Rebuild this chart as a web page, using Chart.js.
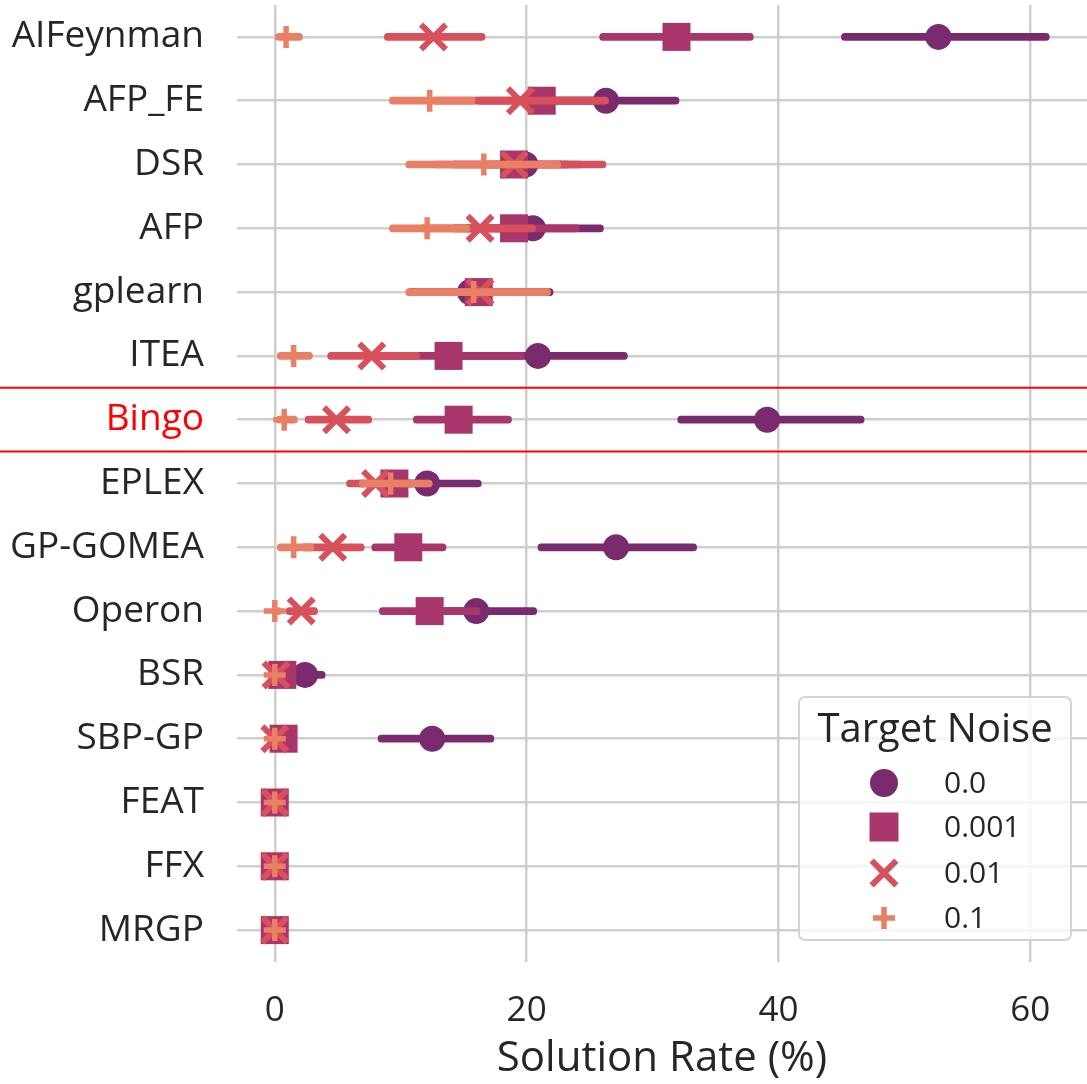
<!DOCTYPE html>
<html>
<head>
<meta charset="utf-8">
<script src="https://cdn.jsdelivr.net/npm/chart.js@4"></script>
<style>
  html, body { margin: 0; padding: 0; background: #fff; }
  #wrap { width: 1087px; height: 1084px; position: relative; }
</style>
</head>
<body>
<div id="wrap"><canvas id="pointChart"></canvas></div>
<script>
// Methods on the y axis, top to bottom
const methods = ['AIFeynman', 'AFP_FE', 'DSR', 'AFP', 'gplearn', 'ITEA', 'Bingo', 'EPLEX',
                 'GP-GOMEA', 'Operon', 'BSR', 'SBP-GP', 'FEAT', 'FFX', 'MRGP'];

// Target noise levels (legend)
const noiseLevels = ['0.0', '0.001', '0.01', '0.1'];

// Solution rate (%) per method, one array per noise level
const rate00   = [52.7, 26.3, 19.9, 20.5, 15.5, 20.9, 39.1, 12.1, 27.1, 16.0, 2.4, 12.5, 0, 0, 0];
const rate0001 = [31.9, 21.2, 19.0, 19.0, 16.2, 13.8, 14.6, 9.5, 10.6, 12.3, 0.6, 0.7, 0, 0, 0];
const rate001  = [12.6, 19.5, 19.0, 16.3, 16.3, 7.7, 4.9, 8.0, 4.6, 2.1, 0.1, 0, 0, 0, 0];
const rate01   = [0.9, 12.3, 16.6, 12.1, 15.8, 1.5, 0.75, 9.2, 1.5, 0, 0, 0, 0, 0, 0];

// Confidence intervals [low, high]
const ci00   = [[45.0, 61.5], [20.5, 32.1], [16.5, 23.5], [15.0, 26.1], [10.6, 22.1], [13.8, 28.0],
                [32.0, 46.8], [8.0, 16.4], [20.9, 33.5], [11.2, 20.8], [0.8, 4.0], [8.2, 17.4],
                [0, 0], [0, 0], [0, 0]];
const ci0001 = [[25.8, 38.0], [16.0, 26.0], [14.0, 24.5], [14.0, 24.2], [11.0, 21.5], [7.8, 19.8],
                [11.0, 18.8], [6.5, 12.5], [7.7, 13.6], [8.3, 16.3], [0, 1.5], [0, 1.6],
                [0, 0], [0, 0], [0, 0]];
const ci001  = [[8.7, 16.7], [12.5, 26.5], [12.5, 26.3], [11.5, 20.7], [10.5, 21.8], [4.2, 11.5],
                [2.4, 7.7], [5.7, 11.0], [2.1, 7.1], [0.9, 3.4], [0, 0.5], [0, 0],
                [0, 0], [0, 0], [0, 0]];
const ci01   = [[0, 2.2], [9.1, 15.9], [10.4, 22.7], [9.1, 15.5], [10.4, 21.9], [0.2, 3.0],
                [0, 1.8], [6.7, 12.5], [0.2, 3.1], [0, 0.5], [0, 0], [0, 0],
                [0, 0], [0, 0], [0, 0]];

// X axis ticks
const xTicks = [0, 20, 40, 60];

const highlighted = 'Bingo';
const FONT = "'Open Sans', 'DejaVu Sans', sans-serif";
const TEXT = '#262626';

const colors = ['#7a2b6d', '#a9366a', '#d9505d', '#e98066'];
const styles = [
    { pointStyle: 'circle',   radius: 13,   width: 0 },
    { pointStyle: 'rect',     radius: 19.8, width: 0 },
    { pointStyle: 'crossRot', radius: 17.5, width: 6 },
    { pointStyle: 'cross',    radius: 11,   width: 5.5 }
];
const rates = [rate00, rate0001, rate001, rate01];
const cis = [ci00, ci0001, ci001, ci01];

// build datasets: per noise level an error bar (floating bar) and the point marker
const datasets = [];
noiseLevels.forEach((lvl, i) => {
    datasets.push({
        type: 'bar',
        label: lvl + ' ci',
        data: cis[i],
        backgroundColor: colors[i],
        borderWidth: 0,
        borderSkipped: false,
        borderRadius: 3.5,
        barThickness: 7,
        grouped: false,
        order: 8 - 2 * i
    });
    datasets.push({
        type: 'line',
        label: lvl,
        indexAxis: 'y',
        data: rates[i],
        showLine: false,
        pointStyle: styles[i].pointStyle,
        pointRadius: styles[i].radius,
        pointBackgroundColor: colors[i],
        pointBorderColor: colors[i],
        pointBorderWidth: styles[i].width,
        borderColor: colors[i],
        backgroundColor: colors[i],
        clip: false,
        order: 7 - 2 * i
    });
});

// red box around the highlighted row
const highlightRow = {
    id: 'highlightRow',
    afterDraw(chart) {
        const y = chart.scales.y;
        const idx = methods.indexOf(highlighted);
        const half = (y.getPixelForValue(1) - y.getPixelForValue(0)) / 2;
        const c = y.getPixelForValue(idx);
        const ctx = chart.ctx;
        ctx.save();
        ctx.strokeStyle = '#ff0000';
        ctx.lineWidth = 2;
        [c - half, c + half].forEach(py => {
            ctx.beginPath();
            ctx.moveTo(0, py);
            ctx.lineTo(chart.width, py);
            ctx.stroke();
        });
        ctx.restore();
    }
};

function marker(ctx, st, x, y, color) {
    ctx.fillStyle = color;
    ctx.strokeStyle = color;
    ctx.lineWidth = st.width;
    const r = st.radius;
    ctx.beginPath();
    if (st.pointStyle === 'circle') {
        ctx.arc(x, y, r, 0, Math.PI * 2);
        ctx.fill();
    } else if (st.pointStyle === 'rect') {
        const s = r * Math.SQRT1_2;
        ctx.rect(x - s, y - s, 2 * s, 2 * s);
        ctx.fill();
    } else if (st.pointStyle === 'crossRot') {
        const o = r * Math.SQRT1_2;
        ctx.moveTo(x - o, y - o); ctx.lineTo(x + o, y + o);
        ctx.moveTo(x - o, y + o); ctx.lineTo(x + o, y - o);
        ctx.stroke();
    } else {
        ctx.moveTo(x - r, y); ctx.lineTo(x + r, y);
        ctx.moveTo(x, y - r); ctx.lineTo(x, y + r);
        ctx.stroke();
    }
}

// legend box in the lower right of the plot
const noiseLegend = {
    id: 'noiseLegend',
    afterDraw(chart) {
        const ctx = chart.ctx;
        const bx = 799, by = 697, bw = 272, bh = 243;
        ctx.save();
        ctx.beginPath();
        ctx.roundRect(bx, by, bw, bh, 6);
        ctx.fillStyle = 'rgba(255,255,255,0.8)';
        ctx.fill();
        ctx.strokeStyle = '#d4d4d4';
        ctx.lineWidth = 2;
        ctx.stroke();

        ctx.fillStyle = TEXT;
        ctx.textBaseline = 'middle';
        ctx.textAlign = 'center';
        ctx.font = '40px ' + FONT;
        ctx.fillText('Target Noise', bx + bw / 2, by + 34);

        ctx.textAlign = 'left';
        ctx.font = '30px ' + FONT;
        const rows = [783, 827, 873, 918];
        noiseLevels.forEach((lvl, i) => {
            const st = Object.assign({}, styles[i]);
            if (i === 0) st.radius = 14;
            if (i === 1) st.radius = 20.5;
            marker(ctx, st, 884, rows[i], colors[i]);
            ctx.fillStyle = TEXT;
            ctx.fillText(lvl, 944, rows[i] + 1);
        });
        ctx.restore();
    }
};

const ctx = document.getElementById('pointChart').getContext('2d');
new Chart(ctx, {
    type: 'bar',
    data: { labels: methods, datasets: datasets },
    options: {
        indexAxis: 'y',
        responsive: true,
        maintainAspectRatio: false,
        animation: false,
        layout: { autoPadding: false, padding: { top: 5, right: 0, bottom: 0, left: 0 } },
        plugins: {
            legend: { display: false },
            tooltip: { enabled: false }
        },
        scales: {
            x: {
                type: 'linear',
                min: -3,
                max: 64.5,
                afterBuildTicks: scale => { scale.ticks = xTicks.map(v => ({ value: v })); },
                afterFit: scale => {
                    scale.height = 122;
                    scale.paddingLeft = 0;
                    scale.paddingRight = 0;
                },
                grid: { color: '#cfcfcf', lineWidth: 2.5, drawTicks: false },
                border: { display: false },
                ticks: { color: TEXT, font: { family: FONT, size: 35 }, padding: 28 },
                title: {
                    display: true,
                    text: 'Solution Rate (%)',
                    color: TEXT,
                    font: { family: FONT, size: 42, lineHeight: 1 },
                    padding: { top: 0, bottom: 4 }
                }
            },
            y: {
                type: 'category',
                offset: true,
                afterFit: scale => {
                    scale.width = 237;
                    scale.paddingTop = 0;
                    scale.paddingBottom = 0;
                },
                grid: { color: '#cfcfcf', lineWidth: 2.5, drawTicks: false, offset: false },
                border: { display: false },
                ticks: {
                    padding: 33,
                    font: { family: FONT, size: 37 },
                    color: c => (methods[c.index] === highlighted ? '#ff0000' : TEXT)
                }
            }
        }
    },
    plugins: [highlightRow, noiseLegend]
});
</script>
</body>
</html>
